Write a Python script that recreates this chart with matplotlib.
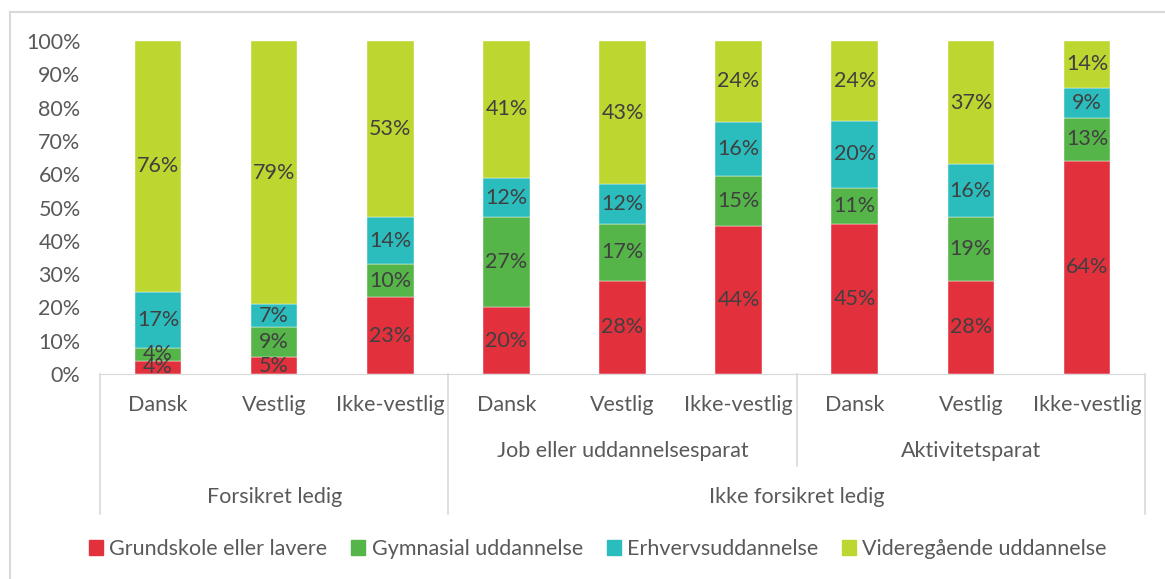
import numpy as np
import matplotlib.pyplot as plt
from matplotlib.lines import Line2D
from matplotlib.patches import Patch

# data
groups = ['Dansk', 'Vestlig', 'Ikke-vestlig'] * 3
mid_labels = ['', 'Job eller uddannelsesparat', 'Aktivitetsparat']
top_labels = ['Forsikret ledig', 'Ikke forsikret ledig']
series = ['Grundskole eller lavere', 'Gymnasial uddannelse',
          'Erhvervsuddannelse', 'Videregående uddannelse']
grundskole = [4, 5, 23, 20, 28, 44, 45, 28, 64]
gymnasial = [4, 9, 10, 27, 17, 15, 11, 19, 13]
erhverv = [17, 7, 14, 12, 12, 16, 20, 16, 9]
videre = [76, 79, 53, 41, 43, 24, 24, 37, 14]
colors = ['#E3303D', '#55B548', '#2BBDBE', '#BDD630']

plt.rcParams['font.family'] = ['Lato', 'DejaVu Sans']
fs = 15.5

W, H = 1165, 579
fig = plt.figure(figsize=(W / 100, H / 100), dpi=100)
ax = fig.add_axes([100 / W, (H - 374) / H, 1045 / W, 333 / H])

allvals = np.array([grundskole, gymnasial, erhverv, videre], dtype=float)
totals = allvals.sum(axis=0)  # rounded labels do not always add to 100

x = np.arange(len(groups))
bottom = np.zeros(len(groups))
for name, vals, c in zip(series, allvals, colors):
    h = vals / totals
    ax.bar(x, h, width=0.4, bottom=bottom, color=c, label=name,
           edgecolor='white', linewidth=0.3)
    for xi, b, hv, v in zip(x, bottom, h, vals):
        ax.text(xi, b + hv / 2, f'{int(v)}%', ha='center', va='center',
                fontsize=fs, color='#404040')
    bottom += h

ax.set_xlim(-0.5, 8.5)
ax.set_ylim(0, 1)
ticks = np.arange(0, 1.01, 0.1)
ax.set_yticks(ticks)
ax.set_yticklabels([f'{int(round(t * 100))}%' for t in ticks])
ax.tick_params(axis='y', length=0, labelsize=fs, labelcolor='#595959', pad=14)
ax.set_xticks([])
for s in ['top', 'right', 'left']:
    ax.spines[s].set_visible(False)
ax.spines['bottom'].set_color('#D9D9D9')

# multi-level category axis
tr = ax.get_xaxis_transform()
lc = '#D9D9D9'
for xv, yb in [(-0.5, -0.42), (2.5, -0.42), (5.5, -0.277), (8.5, -0.42)]:
    ax.add_line(Line2D([xv, xv], [0, yb], transform=tr, color=lc, lw=1.2, clip_on=False))
for xi, g in zip(x, groups):
    ax.text(xi, -0.093, g, transform=tr, ha='center', va='center', fontsize=fs, color='#595959')
for i, m in enumerate(mid_labels):
    if m:
        ax.text(3 * i + 1, -0.231, m, transform=tr, ha='center', va='center',
                fontsize=fs, color='#595959')
ax.text(1, -0.369, top_labels[0], transform=tr, ha='center', va='center', fontsize=fs, color='#595959')
ax.text(5.5, -0.369, top_labels[1], transform=tr, ha='center', va='center', fontsize=fs, color='#595959')

# outer frame (only left and top edges visible)
fig.add_artist(Line2D([10 / W, 10 / W], [0, 1 - 12 / H], transform=fig.transFigure, color=lc, lw=1.5))
fig.add_artist(Line2D([10 / W, 1], [1 - 12 / H, 1 - 12 / H], transform=fig.transFigure, color=lc, lw=1.5))

handles = [Patch(color=c, label=s) for s, c in zip(series, colors)]
fig.legend(handles=handles, loc='center', bbox_to_anchor=(598 / W, 1 - 549 / H), ncol=4,
           frameon=False, fontsize=fs, labelcolor='#595959', handlelength=0.65,
           handleheight=0.65, handletextpad=0.3, columnspacing=1.1)

fig.savefig('out.png', dpi=100)
